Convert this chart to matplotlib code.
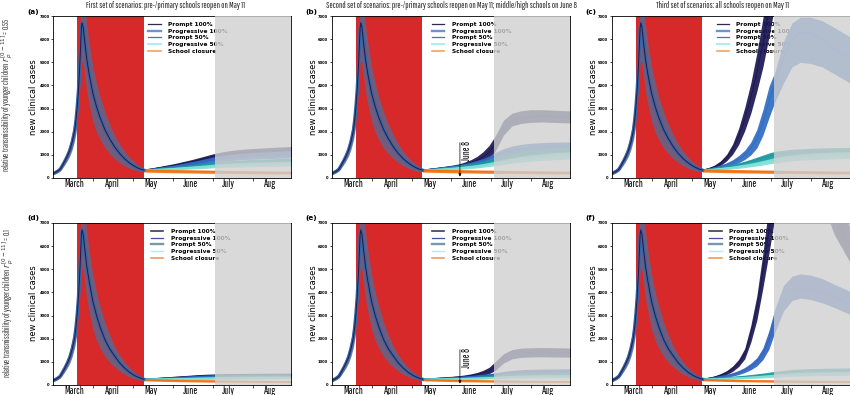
import matplotlib
matplotlib.use("Agg")
import matplotlib.pyplot as plt
from matplotlib.lines import Line2D
from matplotlib import font_manager

# ---------------- data (days counted from March 1) ----------------
pre_days = [-4, -2, 0, 2, 4, 6, 8, 10, 12, 14, 15, 16, 17, 18, 19, 19.5, 20, 21, 22, 24, 26, 29, 32, 35, 39, 43, 47, 51, 55, 59, 63, 67, 71]
pre_top_med = [190, 240, 300, 380, 560, 750, 960, 1210, 1580, 2070, 2500, 3050, 3750, 4700, 5900, 6500, 6700, 6500, 6000, 5100, 4450, 3650, 3080, 2600, 2080, 1680, 1340, 1065, 840, 660, 520, 410, 340]
pre_top_lo = [140, 180, 230, 300, 440, 590, 760, 960, 1250, 1650, 1950, 2400, 2950, 3700, 4500, 4900, 5100, 5000, 4600, 3700, 3150, 2450, 1980, 1650, 1300, 1040, 830, 660, 530, 420, 350, 300, 280]
pre_top_hi = [250, 310, 390, 490, 700, 930, 1190, 1500, 1960, 2600, 3150, 3850, 4750, 6000, 7300, 7800, 8000, 7900, 7500, 6600, 5800, 4800, 4100, 3500, 2850, 2300, 1850, 1470, 1160, 900, 700, 540, 410]
pre_bot_med = [190, 240, 300, 380, 560, 750, 960, 1210, 1580, 2070, 2500, 3050, 3750, 4700, 5900, 6500, 6700, 6500, 6000, 5100, 4450, 3600, 3000, 2500, 1950, 1550, 1250, 960, 740, 560, 420, 320, 250]
pre_bot_lo = [140, 180, 230, 300, 440, 590, 760, 960, 1250, 1650, 1950, 2400, 2950, 3700, 4500, 4900, 5100, 5000, 4600, 3700, 3150, 2400, 1920, 1580, 1220, 960, 780, 600, 470, 360, 280, 230, 210]
pre_bot_hi = [250, 310, 390, 490, 700, 930, 1190, 1500, 1960, 2600, 3150, 3850, 4750, 6000, 7300, 7800, 8000, 7900, 7500, 6600, 5800, 4750, 4000, 3400, 2700, 2150, 1660, 1300, 1000, 760, 570, 420, 290]

post_days = [71, 76, 81, 86, 91, 96, 101, 106, 111, 116, 121, 126, 131, 138, 145, 152, 160, 170, 180, 193]

# school closure (same in every panel of a row)
closure_top_med = [330, 320, 312, 305, 300, 296, 292, 288, 284, 280, 276, 272, 268, 262, 256, 250, 244, 238, 232, 225]
closure_top_lo = [260, 250, 242, 236, 230, 226, 222, 218, 214, 210, 206, 203, 200, 196, 192, 188, 184, 180, 176, 172]
closure_top_hi = [400, 390, 382, 375, 370, 366, 362, 358, 354, 350, 346, 342, 338, 332, 326, 320, 314, 308, 302, 296]
closure_bot_med = [230, 222, 215, 208, 202, 197, 192, 188, 184, 180, 176, 172, 168, 164, 160, 157, 154, 151, 148, 145]
closure_bot_lo = [180, 172, 165, 158, 152, 147, 142, 138, 134, 130, 127, 124, 121, 118, 115, 113, 111, 109, 107, 105]
closure_bot_hi = [280, 272, 265, 258, 252, 247, 242, 238, 234, 230, 226, 222, 218, 214, 210, 206, 202, 198, 194, 190]

# panel (a)
a_p100_med = [340, 380, 420, 460, 500, 550, 600, 650, 710, 770, 840, 910, 980, 1030, 1070, 1100, 1130, 1160, 1190, 1220]
a_p100_lo = [300, 330, 360, 390, 420, 460, 500, 540, 590, 640, 690, 750, 800, 840, 870, 900, 920, 940, 960, 980]
a_p100_hi = [380, 420, 470, 520, 570, 620, 680, 740, 800, 870, 940, 1010, 1080, 1150, 1200, 1240, 1270, 1300, 1330, 1360]
a_g100_med = [340, 370, 400, 430, 465, 500, 540, 580, 625, 670, 720, 770, 820, 870, 910, 940, 970, 1000, 1020, 1050]
a_g100_lo = [300, 325, 350, 375, 400, 430, 460, 495, 530, 570, 610, 650, 690, 730, 760, 790, 810, 830, 850, 870]
a_g100_hi = [380, 410, 445, 480, 520, 560, 610, 660, 710, 760, 820, 880, 940, 990, 1030, 1060, 1090, 1120, 1150, 1180]
a_p50_med = [340, 360, 380, 400, 420, 445, 470, 495, 520, 550, 580, 610, 640, 670, 690, 710, 730, 750, 765, 780]
a_p50_lo = [300, 315, 330, 345, 360, 380, 400, 420, 440, 465, 490, 515, 540, 560, 575, 590, 605, 620, 630, 640]
a_p50_hi = [380, 400, 420, 445, 470, 495, 520, 550, 580, 610, 640, 675, 710, 740, 760, 780, 800, 820, 840, 860]
a_g50_med = [340, 350, 365, 380, 395, 410, 425, 440, 455, 470, 490, 510, 530, 550, 565, 580, 595, 610, 620, 630]
a_g50_lo = [300, 310, 320, 330, 340, 350, 360, 375, 390, 400, 415, 430, 445, 460, 470, 480, 490, 500, 510, 520]
a_g50_hi = [380, 395, 410, 425, 440, 460, 480, 500, 520, 540, 560, 585, 610, 630, 650, 665, 680, 695, 710, 720]

# panel (b)
b_p100_med = [340, 370, 400, 430, 460, 490, 530, 590, 660, 760, 900, 1100, 1450, 2150, 2500, 2600, 2640, 2660, 2650, 2630]
b_p100_lo = [300, 325, 350, 375, 400, 425, 455, 490, 540, 610, 700, 850, 1150, 1850, 2250, 2350, 2400, 2420, 2400, 2380]
b_p100_hi = [380, 415, 450, 485, 520, 560, 610, 690, 790, 930, 1130, 1400, 1800, 2500, 2800, 2900, 2950, 2950, 2930, 2900]
b_g100_med = [340, 365, 390, 420, 450, 480, 515, 560, 610, 670, 740, 830, 950, 1100, 1200, 1260, 1300, 1330, 1350, 1360]
b_g100_lo = [300, 320, 345, 370, 395, 420, 450, 490, 530, 580, 640, 710, 800, 930, 1020, 1080, 1110, 1140, 1150, 1160]
b_g100_hi = [380, 410, 440, 470, 505, 540, 580, 630, 690, 760, 840, 950, 1100, 1270, 1380, 1450, 1500, 1530, 1550, 1560]
b_p50_med = [340, 360, 380, 400, 425, 450, 480, 510, 550, 595, 645, 700, 770, 870, 950, 1010, 1060, 1110, 1150, 1190]
b_p50_lo = [300, 315, 330, 345, 365, 385, 410, 435, 470, 505, 545, 590, 650, 730, 800, 850, 890, 930, 960, 990]
b_p50_hi = [380, 405, 430, 455, 485, 515, 550, 585, 630, 680, 740, 805, 890, 1000, 1090, 1160, 1220, 1270, 1310, 1350]
b_g50_med = [340, 350, 365, 380, 395, 410, 430, 455, 480, 510, 545, 585, 630, 700, 760, 810, 860, 910, 950, 990]
b_g50_lo = [300, 310, 320, 330, 340, 355, 370, 390, 410, 435, 465, 495, 530, 590, 640, 680, 720, 760, 790, 820]
b_g50_hi = [380, 395, 410, 430, 450, 470, 495, 520, 550, 585, 625, 670, 720, 800, 870, 930, 990, 1040, 1090, 1130]

# panel (c)
c_p100_med = [340, 400, 480, 640, 880, 1250, 1800, 2550, 3450, 4550, 5800, 7300, 8800, 10500, 11500, 12000, 12000, 11500, 11000, 10000]
c_p100_lo = [300, 350, 420, 540, 740, 1030, 1450, 2050, 2800, 3750, 4800, 6100, 7500, 9000, 10000, 10500, 10500, 10000, 9500, 8500]
c_p100_hi = [380, 450, 560, 740, 1020, 1470, 2150, 3050, 4100, 5400, 6900, 8600, 10300, 12000, 13000, 13500, 13500, 13000, 12500, 11500]
c_g100_med = [340, 380, 430, 490, 570, 680, 820, 1000, 1280, 1700, 2400, 3300, 4100, 5200, 6000, 6300, 6250, 6000, 5600, 5100]
c_g100_lo = [300, 330, 370, 420, 480, 560, 660, 800, 1000, 1300, 1850, 2600, 3300, 4100, 4800, 5000, 4950, 4800, 4500, 4100]
c_g100_hi = [380, 430, 490, 560, 660, 790, 970, 1200, 1550, 2100, 2950, 3950, 4600, 5900, 6700, 6950, 6950, 6800, 6500, 6100]
c_p50_med = [340, 370, 400, 440, 480, 530, 580, 640, 710, 790, 870, 950, 1020, 1070, 1100, 1120, 1140, 1150, 1160, 1170]
c_p50_lo = [300, 325, 350, 380, 410, 450, 490, 540, 600, 660, 730, 790, 850, 900, 930, 950, 970, 980, 990, 1000]
c_p50_hi = [380, 415, 450, 495, 540, 600, 660, 730, 810, 900, 990, 1080, 1150, 1200, 1240, 1260, 1280, 1300, 1310, 1320]
c_g50_med = [340, 360, 380, 405, 430, 460, 495, 530, 570, 615, 665, 720, 780, 840, 880, 910, 940, 960, 980, 1000]
c_g50_lo = [300, 315, 330, 350, 370, 395, 420, 450, 485, 520, 560, 605, 650, 700, 740, 770, 790, 810, 830, 850]
c_g50_hi = [380, 400, 425, 455, 485, 520, 560, 600, 650, 700, 760, 820, 890, 950, 1000, 1040, 1070, 1100, 1120, 1140]

# panel (d)
d_p100_med = [250, 265, 280, 295, 310, 325, 340, 355, 370, 385, 395, 405, 415, 420, 425, 428, 430, 432, 433, 435]
d_p100_lo = [210, 222, 235, 248, 260, 272, 284, 296, 308, 320, 330, 338, 345, 350, 354, 357, 360, 362, 364, 365]
d_p100_hi = [290, 308, 325, 342, 360, 378, 396, 414, 432, 450, 462, 472, 482, 490, 496, 500, 503, 506, 508, 510]
d_g100_med = [250, 260, 272, 284, 296, 308, 320, 332, 344, 356, 366, 375, 384, 392, 398, 402, 405, 408, 410, 412]
d_g100_lo = [210, 218, 228, 238, 248, 258, 268, 278, 288, 298, 306, 314, 320, 326, 331, 334, 337, 340, 342, 344]
d_g100_hi = [290, 302, 316, 330, 344, 358, 372, 386, 400, 414, 426, 436, 448, 458, 465, 470, 473, 476, 478, 480]
d_p50_med = [250, 255, 262, 269, 276, 283, 290, 297, 304, 311, 318, 324, 330, 336, 340, 343, 346, 348, 350, 352]
d_p50_lo = [210, 214, 219, 224, 229, 234, 239, 244, 249, 254, 259, 264, 268, 272, 276, 279, 281, 283, 285, 287]
d_p50_hi = [290, 297, 305, 313, 321, 329, 338, 347, 356, 365, 374, 382, 390, 398, 404, 408, 411, 414, 416, 418]
d_g50_med = [250, 253, 257, 261, 265, 269, 273, 278, 283, 288, 293, 298, 303, 308, 312, 315, 318, 320, 322, 324]
d_g50_lo = [210, 212, 215, 218, 221, 224, 227, 231, 235, 239, 243, 247, 251, 255, 258, 261, 263, 265, 267, 269]
d_g50_hi = [290, 294, 299, 304, 309, 314, 319, 325, 331, 337, 343, 349, 355, 361, 366, 370, 373, 376, 378, 380]

# panel (e)
e_p100_med = [250, 265, 280, 295, 310, 325, 345, 370, 405, 450, 520, 620, 800, 1150, 1330, 1390, 1410, 1420, 1410, 1400]
e_p100_lo = [210, 222, 235, 248, 260, 272, 288, 305, 330, 365, 415, 490, 620, 950, 1130, 1190, 1210, 1220, 1210, 1200]
e_p100_hi = [290, 308, 325, 342, 360, 378, 402, 435, 480, 540, 630, 760, 1000, 1350, 1530, 1590, 1610, 1620, 1610, 1600]
e_g100_med = [250, 260, 272, 284, 296, 308, 322, 338, 356, 376, 398, 422, 450, 500, 540, 565, 580, 590, 595, 600]
e_g100_lo = [210, 218, 228, 238, 248, 258, 270, 283, 298, 314, 332, 352, 375, 415, 450, 470, 482, 490, 495, 500]
e_g100_hi = [290, 302, 316, 330, 344, 358, 374, 393, 414, 438, 464, 492, 525, 585, 630, 660, 678, 690, 695, 700]
e_p50_med = [250, 255, 262, 269, 276, 283, 292, 302, 313, 325, 338, 352, 368, 400, 425, 440, 450, 458, 462, 465]
e_p50_lo = [210, 214, 219, 224, 229, 234, 241, 249, 258, 268, 279, 291, 304, 330, 352, 365, 374, 380, 384, 387]
e_p50_hi = [290, 297, 305, 313, 321, 329, 339, 351, 364, 378, 393, 409, 428, 466, 495, 512, 524, 532, 537, 540]
e_g50_med = [250, 253, 257, 261, 265, 269, 274, 280, 287, 294, 302, 311, 320, 340, 356, 366, 373, 378, 382, 385]
e_g50_lo = [210, 212, 215, 218, 221, 224, 228, 233, 239, 245, 251, 258, 265, 282, 296, 304, 310, 314, 317, 320]
e_g50_hi = [290, 294, 299, 304, 309, 314, 320, 327, 335, 343, 353, 364, 375, 398, 416, 428, 436, 442, 447, 450]

# panel (f)
f_p100_med = [250, 290, 340, 420, 530, 700, 950, 1350, 2200, 3300, 4900, 6700, 8500, 9800, 10300, 10300, 9800, 8800, 7300, 6000]
f_p100_lo = [210, 245, 290, 355, 450, 590, 800, 1130, 1850, 2800, 4200, 5700, 7300, 8800, 9300, 9300, 8800, 7900, 6500, 5300]
f_p100_hi = [290, 335, 395, 490, 620, 820, 1110, 1580, 2570, 3850, 5700, 7800, 9900, 11000, 11500, 11500, 11000, 10000, 8300, 6800]
f_g100_med = [250, 280, 315, 355, 400, 460, 540, 650, 800, 1000, 1350, 1950, 2900, 3700, 4100, 4200, 4150, 4000, 3800, 3500]
f_g100_lo = [210, 235, 265, 298, 335, 385, 450, 540, 660, 820, 1100, 1550, 2300, 3200, 3650, 3750, 3700, 3550, 3350, 3050]
f_g100_hi = [290, 325, 365, 412, 465, 535, 630, 760, 940, 1180, 1600, 2350, 3300, 4300, 4700, 4800, 4750, 4600, 4350, 4050]
f_p50_med = [250, 262, 276, 291, 307, 324, 343, 364, 387, 412, 440, 470, 500, 540, 570, 590, 605, 615, 622, 628]
f_p50_lo = [210, 220, 231, 243, 256, 270, 285, 302, 321, 341, 363, 387, 412, 445, 470, 487, 500, 508, 514, 519]
f_p50_hi = [290, 304, 321, 339, 358, 378, 401, 426, 453, 483, 517, 553, 590, 635, 670, 693, 710, 722, 730, 737]
f_g50_med = [250, 257, 265, 274, 284, 295, 307, 320, 334, 349, 366, 384, 403, 430, 452, 468, 480, 490, 497, 503]
f_g50_lo = [210, 216, 222, 229, 237, 246, 256, 267, 279, 291, 305, 320, 336, 358, 376, 390, 400, 408, 414, 419]
f_g50_hi = [290, 298, 308, 319, 331, 344, 358, 373, 389, 407, 427, 448, 470, 502, 528, 546, 560, 572, 580, 587]

scenario_labels = ["Prompt 100%", "Progressive 100%", "Prompt 50%", "Progressive 50%", "School closure"]
month_labels = ["March", "April", "May", "June", "July", "Aug"]
month_label_days = [14, 45, 77, 110, 141, 175]
month_tick_days = [29, 62, 95, 128, 161]
lockdown_days = (16, 71)
summer_days = (130.3, 194)
june8_day = 102
y_ticks = [0, 1000, 2000, 3000, 4000, 5000, 6000, 7000]
titles = ["First set of scenarios: pre-/primary schools reopen on May 11",
          "Second set of scenarios: pre-/primary schools reopen on May 11; middle/high schools on June 8",
          "Third set of scenarios: all schools reopen on May 11"]
panel_letters = ["(a)", "(b)", "(c)", "(d)", "(e)", "(f)"]
row_values = ["0.55", "0.1"]

# ---------------- style ----------------
W, H = 850, 395
available = {f.name for f in font_manager.fontManager.ttflist}
# condensed family and its width relative to Pathway Gothic One
cond_options = [("Pathway Gothic One", 1.0), ("Sofia Sans Extra Condensed", 155 / 138),
                ("League Gothic", 155 / 133), ("Roboto Condensed", 155 / 206),
                ("DejaVu Sans", 155 / 295)]
COND, CS = next((n, s) for n, s in cond_options if n in available)
COND_FAM = [COND, "DejaVu Sans"]

RED = "#d7292a"
GRAY = "#d0d0d0"
band_top = ["#1b1752", "#2f6cc4", "#1a98a0", "#7ee0d8", "#f07212"]
band_bot = ["#1b1752", "#2e64bf", "#1c9ea0", "#80e2d4", "#f07212"]
leg_top_cols = ["#2b2b4d", "#6b95cc", "#3a7ea6", "#a8eef0", "#f4a263"]
leg_top_lws = [0.9, 1.7, 0.9, 1.4, 1.2]
leg_bot_cols = ["#3a3a5c", "#3d51a0", "#7896b0", "#a4f0f0", "#f49050"]
leg_bot_lws = [1.2, 0.9, 1.7, 1.0, 1.1]

fig = plt.figure(figsize=(W / 100, H / 100), dpi=100)


def rect(l, t, w, h):
    return [l / W, 1 - (t + h) / H, w / W, h / H]


col_left = [53, 331.7, 611.7]
row_top = [16, 223]
leg_x = [[0.40, 0.42, 0.44], [0.41, 0.42, 0.41]]

panel_data = [
    [(a_p100_med, a_p100_lo, a_p100_hi), (a_g100_med, a_g100_lo, a_g100_hi),
     (a_p50_med, a_p50_lo, a_p50_hi), (a_g50_med, a_g50_lo, a_g50_hi),
     (closure_top_med, closure_top_lo, closure_top_hi)],
    [(b_p100_med, b_p100_lo, b_p100_hi), (b_g100_med, b_g100_lo, b_g100_hi),
     (b_p50_med, b_p50_lo, b_p50_hi), (b_g50_med, b_g50_lo, b_g50_hi),
     (closure_top_med, closure_top_lo, closure_top_hi)],
    [(c_p100_med, c_p100_lo, c_p100_hi), (c_g100_med, c_g100_lo, c_g100_hi),
     (c_p50_med, c_p50_lo, c_p50_hi), (c_g50_med, c_g50_lo, c_g50_hi),
     (closure_top_med, closure_top_lo, closure_top_hi)],
    [(d_p100_med, d_p100_lo, d_p100_hi), (d_g100_med, d_g100_lo, d_g100_hi),
     (d_p50_med, d_p50_lo, d_p50_hi), (d_g50_med, d_g50_lo, d_g50_hi),
     (closure_bot_med, closure_bot_lo, closure_bot_hi)],
    [(e_p100_med, e_p100_lo, e_p100_hi), (e_g100_med, e_g100_lo, e_g100_hi),
     (e_p50_med, e_p50_lo, e_p50_hi), (e_g50_med, e_g50_lo, e_g50_hi),
     (closure_bot_med, closure_bot_lo, closure_bot_hi)],
    [(f_p100_med, f_p100_lo, f_p100_hi), (f_g100_med, f_g100_lo, f_g100_hi),
     (f_p50_med, f_p50_lo, f_p50_hi), (f_g50_med, f_g50_lo, f_g50_hi),
     (closure_bot_med, closure_bot_lo, closure_bot_hi)],
]

for r in range(2):
    pre_med, pre_lo, pre_hi = [(pre_top_med, pre_top_lo, pre_top_hi),
                               (pre_bot_med, pre_bot_lo, pre_bot_hi)][r]
    bands = band_top if r == 0 else band_bot
    lcols = leg_top_cols if r == 0 else leg_bot_cols
    llws = leg_top_lws if r == 0 else leg_bot_lws
    for c in range(3):
        k = r * 3 + c
        ax = fig.add_axes(rect(col_left[c], row_top[r], 238.3, 162))
        ax.set_xlim(-4, 193)
        ax.set_ylim(0, 7000)
        ax.axvspan(*lockdown_days, color=RED, lw=0, zorder=0)
        ax.fill_between(pre_days, pre_lo, pre_hi, color="#5a6890", alpha=0.82, lw=0, zorder=2)
        ax.plot(pre_days, pre_med, color="#3a63a0", lw=2.4, zorder=2.1)
        ax.plot(pre_days, pre_med, color="#1c1c50", lw=0.7, zorder=2.2)
        for (med, lo, hi), col in zip(panel_data[k], bands):
            ax.fill_between(post_days, lo, hi, color=col, alpha=0.92, lw=0, zorder=2)
            ax.plot(post_days, med, color=col, lw=0.7, zorder=2)
        ax.axvspan(*summer_days, color=GRAY, alpha=0.8, lw=0, zorder=4)

        handles = [Line2D([], [], color=cc, lw=ww) for cc, ww in zip(lcols, llws)]
        leg = ax.legend(handles, scenario_labels, loc="upper left",
                        bbox_to_anchor=(leg_x[r][c], 0.965), frameon=False,
                        prop=dict(family="DejaVu Sans", weight="bold", size=4.2),
                        handlelength=2.1, handletextpad=1.3, labelspacing=0.3,
                        borderpad=0, borderaxespad=0)
        leg.set_zorder(1.5)

        if c == 1:
            ax.annotate("", xy=(june8_day, 60), xytext=(june8_day, 1530),
                        arrowprops=dict(arrowstyle="-|>", lw=0.5, color="black",
                                        mutation_scale=4, shrinkA=0, shrinkB=0),
                        zorder=3)
            ax.text(june8_day + 2.0, 1600, "June 8", rotation=90, ha="left", va="top",
                    fontsize=7.2 * CS, fontweight="bold", family=COND_FAM, zorder=3)

        ax.set_xticks(month_tick_days)
        ax.set_xticklabels([])
        ax.set_xticks(month_label_days, minor=True)
        ax.set_xticklabels(month_labels, minor=True, fontsize=7.5 * CS,
                           fontweight="bold", family=COND_FAM)
        ax.tick_params(axis="x", which="minor", length=0, pad=1.0)
        ax.tick_params(axis="x", which="major", length=2, width=0.5)
        ax.set_yticks(y_ticks)
        ax.set_yticklabels([str(v) for v in y_ticks], fontsize=2.7, fontweight="bold")
        ax.tick_params(axis="y", length=1.5, width=0.5, pad=1)
        for sp in ax.spines.values():
            sp.set_linewidth(0.6)

        letter_x = [27, 305, 585][c]
        letter_y = [11.7, 218.3][r]
        fig.text(letter_x / W, 1 - letter_y / H, panel_letters[k], ha="left", va="center",
                 fontsize=5.2, fontweight="bold")
        ylab_x = [33, 313, 593][c]
        ylab_y = [97.5, 303][r]
        fig.text(ylab_x / W, 1 - ylab_y / H, "new clinical cases", rotation=90,
                 ha="center", va="center", fontsize=6)

title_x = [166, 452, 723]
for t, x in zip(titles, title_x):
    fig.text(x / W, 1 - 5 / H, t, ha="center", va="center", fontsize=6.2 * CS,
             fontweight="bold", family=COND_FAM, color="#222222")

for r, (v, y) in enumerate(zip(row_values, [95, 303])):
    fig.text([7, 8][r] / W, 1 - y / H,
             "relative transmissibility of younger children  $r_p^{[0-11]}$ = " + v,
             rotation=90, ha="center", va="center", fontsize=5.8 * CS, family=COND_FAM,
             color="#333333")

fig.savefig("out.png", dpi=100)
